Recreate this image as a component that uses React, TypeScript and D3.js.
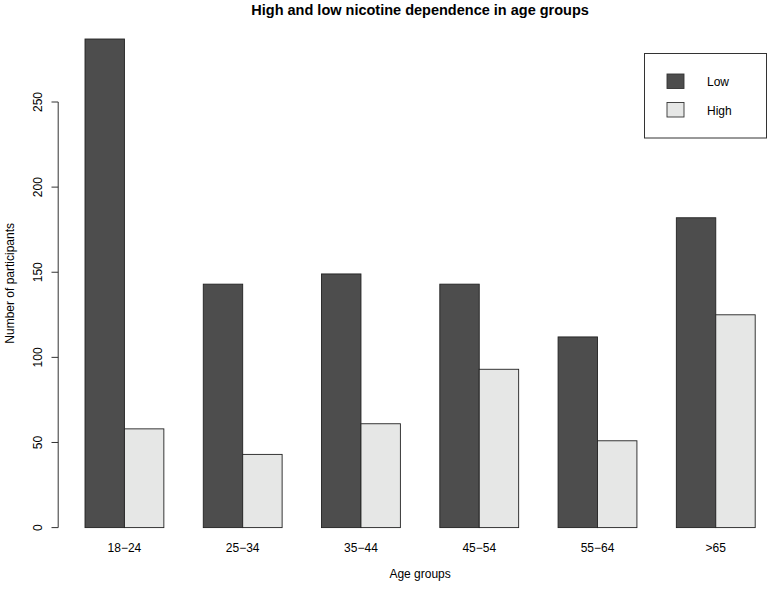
import React from "react";
import * as d3 from "d3";

const categories = ["18\u221224", "25\u221234", "35\u221244", "45\u221254", "55\u221264", ">65"];
const lowValues = [287, 143, 149, 143, 112, 182];
const highValues = [58, 43, 61, 93, 51, 125];
const seriesNames = ["Low", "High"];
const seriesColors = ["#4d4d4d", "#e6e7e6"];
const yTicks = [0, 50, 100, 150, 200, 250];

const W = 770;
const H = 594;
const FONT = "'Liberation Sans', Arial, Helvetica, sans-serif";

export default function App() {
  // R barplot layout: space=c(0,1), bar width 1 unit
  const nGroups = categories.length;
  const xMinU = 1;
  const xMaxU = nGroups * 3;
  const ext = (xMaxU - xMinU) * 0.04;
  const x = d3.scaleLinear().domain([xMinU - ext, xMaxU + ext]).range([58.2, 782]);
  const y = d3.scaleLinear().domain([0, 250]).range([527.6, 102]);
  const yMax = d3.max(lowValues.concat(highValues)) as number;
  const yCenter = y(yMax / 2);

  const series = [lowValues, highValues];
  const plotCenter = (x.range()[0] + x.range()[1]) / 2;

  return (
    <svg width={W} height={H} style={{ position: "absolute", left: 0, top: 0, background: "#fff" }}>
      <rect x={0} y={0} width={W} height={H} fill="#fff" />
      <text x={plotCenter} y={15} textAnchor="middle" fontFamily={FONT} fontWeight="bold" fontSize={14.5} fill="#000">
        High and low nicotine dependence in age groups
      </text>
      {categories.map((c, gi) =>
        series.map((vals, si) => {
          const u0 = gi * 3 + 1 + si;
          return (
            <rect
              key={`${gi}-${si}`}
              x={x(u0)}
              y={y(vals[gi])}
              width={x(u0 + 1) - x(u0)}
              height={y(0) - y(vals[gi])}
              fill={seriesColors[si]}
              stroke="#222"
              strokeWidth={0.9}
            />
          );
        })
      )}
      {/* y axis */}
      <line x1={58.2} x2={58.2} y1={y(0)} y2={y(250)} stroke="#333" strokeWidth={1} />
      {yTicks.map((t) => (
        <g key={t}>
          <line x1={51.5} x2={58.2} y1={y(t)} y2={y(t)} stroke="#333" strokeWidth={1} />
          <text
            transform={`translate(42,${y(t)}) rotate(-90)`}
            textAnchor="middle"
            fontFamily={FONT}
            fontSize={12}
            fill="#000"
          >
            {t}
          </text>
        </g>
      ))}
      {/* x labels */}
      {categories.map((c, gi) => (
        <text
          key={c}
          x={x(gi * 3 + 2)}
          y={552}
          textAnchor="middle"
          fontFamily={FONT}
          fontSize={12}
          fill="#000"
        >
          {c}
        </text>
      ))}
      <text x={plotCenter} y={578} textAnchor="middle" fontFamily={FONT} fontSize={12} fill="#000">
        Age groups
      </text>
      <text
        transform={`translate(14,${yCenter}) rotate(-90)`}
        textAnchor="middle"
        fontFamily={FONT}
        fontSize={12}
        fill="#000"
      >
        Number of participants
      </text>
      {/* legend */}
      <rect x={644.5} y={53.5} width={122} height={84.5} fill="#fff" stroke="#333" strokeWidth={1} />
      {seriesNames.map((s, i) => (
        <g key={s}>
          <rect x={667} y={74 + i * 28.5} width={17} height={14.5} fill={seriesColors[i]} stroke="#333" strokeWidth={0.9} />
          <text x={707} y={86 + i * 28.5} fontFamily={FONT} fontSize={12} fill="#000">
            {s}
          </text>
        </g>
      ))}
    </svg>
  );
}
